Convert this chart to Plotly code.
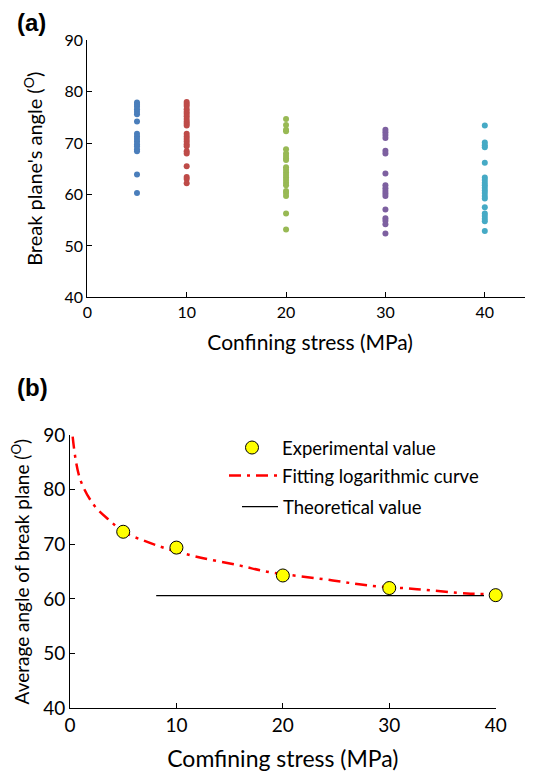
import plotly.graph_objects as go

# ---------------- Panel (a) data ----------------
stress_a = [5, 10, 20, 30, 40]
colors_a = ["#4A7EBB", "#BE4B48", "#98B954", "#7D60A0", "#46AAC5"]
angles_5 = [77.9, 77.5, 77.1, 76.6, 76.1, 75.6, 74.2, 71.8, 71.3, 70.8, 70.3,
            69.8, 69.4, 68.8, 68.4, 63.9, 60.3]
angles_10 = [78.0, 77.6, 77.2, 76.6, 76.1, 75.7, 75.2, 74.7, 74.2, 73.8, 73.4,
             71.8, 71.3, 70.8, 70.3, 69.8, 69.4, 68.4, 68.0, 65.5, 63.4, 63.0, 62.2]
angles_20 = [74.7, 73.5, 72.6, 72.3, 68.8, 68.0, 67.5, 67.0, 66.7, 65.3, 64.8,
             64.3, 63.8, 63.3, 62.8, 62.3, 61.8, 60.7, 60.3, 59.7, 56.3, 53.2]
angles_30 = [72.6, 72.1, 71.6, 71.0, 68.5, 68.0, 64.1, 61.8, 61.2, 60.7, 60.2,
             59.7, 57.1, 55.4, 54.9, 54.2, 52.4]
angles_40 = [73.4, 70.1, 69.6, 69.2, 66.2, 63.3, 62.8, 62.3, 61.8, 61.3, 60.8,
             60.3, 59.7, 59.2, 57.5, 56.3, 55.8, 55.3, 54.8, 52.9]
angle_groups = [angles_5, angles_10, angles_20, angles_30, angles_40]

# ---------------- Panel (b) data ----------------
stress_b = [5, 10, 20, 30, 40]
avg_angle = [72.3, 69.4, 64.3, 62.0, 60.7]
fit_x = [0.25, 0.94, 2.28, 3.76, 5.0, 6.9, 9.1, 12.2, 16.0, 18.5, 24.7, 27.9,
         32.6, 37.3, 39.0]
fit_y = [89.7, 82.0, 77.1, 74.3, 72.3, 70.7, 69.2, 67.6, 66.1, 65.0, 63.4, 62.5,
         61.8, 61.0, 60.9]
theory_x = [8.1, 38.9]
theory_y = [60.6, 60.6]

FONT = "Lato"
OFF = 8          # page body margin
W, H = 525, 764  # figure size so that content reaches the window edges


def sx(s):
    """screen x pixel -> paper fraction"""
    return (s - OFF) / W


def sy(s):
    """screen y pixel -> paper fraction"""
    return 1 - (s - OFF) / H


fig = go.Figure()

for s, ys, c in zip(stress_a, angle_groups, colors_a):
    fig.add_trace(go.Scatter(
        x=[s] * len(ys), y=ys, mode="markers",
        marker=dict(color=c, size=6, line=dict(width=0)),
        xaxis="x", yaxis="y", showlegend=False))

fig.add_trace(go.Scatter(
    x=fit_x, y=fit_y, mode="lines", name="Fitting logarithmic curve",
    line=dict(color="#FF0000", width=2.5, dash="12px,6px,3px,6px", shape="spline"),
    xaxis="x2", yaxis="y2", legend="legend2"))
fig.add_trace(go.Scatter(
    x=theory_x, y=theory_y, mode="lines", name="Theoretical value",
    line=dict(color="#000000", width=1.2),
    xaxis="x2", yaxis="y2", legend="legend3"))
fig.add_trace(go.Scatter(
    x=stress_b, y=avg_angle, mode="markers", name="Experimental value",
    marker=dict(color="#FFFF00", size=13, line=dict(color="#000000", width=1)),
    cliponaxis=False, xaxis="x2", yaxis="y2", legend="legend"))

axis_common = dict(showline=True, linecolor="black", linewidth=1, ticks="inside",
                   ticklen=5, tickcolor="black", showgrid=False, zeroline=False,
                   mirror=False, automargin=False)

fig.update_layout(
    width=W, height=H, margin=dict(l=0, r=0, t=0, b=0, autoexpand=False),
    paper_bgcolor="white", plot_bgcolor="white",
    font=dict(family=FONT, color="black"),
    xaxis=dict(domain=[sx(87.3), 1.0], range=[0, 44.85], tickvals=[0, 10, 20, 30, 40],
               anchor="y", tickfont=dict(size=16, family=FONT),
               title=dict(text="Confining stress (MPa)", font=dict(size=21, family=FONT), standoff=15),
               **axis_common),
    yaxis=dict(domain=[sy(297.3), sy(40.3)], range=[40, 90], tickvals=[40, 50, 60, 70, 80, 90],
               anchor="x", tickfont=dict(size=16, family=FONT),
               title=dict(text="Break plane's angle (<sup>O</sup>)", font=dict(size=20, family=FONT), standoff=16),
               **axis_common),
    xaxis2=dict(domain=[sx(70), sx(495.7)], range=[0, 40], tickvals=[0, 10, 20, 30, 40],
                anchor="y2", tickfont=dict(size=19, family=FONT),
                title=dict(text="Comfining stress (MPa)", font=dict(size=23, family=FONT), standoff=18),
                **axis_common),
    yaxis2=dict(domain=[sy(708.3), sy(435)], range=[40, 90], tickvals=[40, 50, 60, 70, 80, 90],
                anchor="x2", tickfont=dict(size=19, family=FONT),
                title=dict(text="Average angle of break plane (<sup>O</sup>)", font=dict(size=19, family=FONT), standoff=11),
                **axis_common),
    legend=dict(x=sx(222), y=sy(448), xanchor="left", yanchor="middle",
                bgcolor="rgba(0,0,0,0)", font=dict(size=18.5, family=FONT), itemwidth=50),
    legend2=dict(x=sx(224), y=sy(476), xanchor="left", yanchor="middle",
                 bgcolor="rgba(0,0,0,0)", font=dict(size=18.5, family=FONT), itemwidth=48),
    legend3=dict(x=sx(237), y=sy(507), xanchor="left", yanchor="middle",
                 bgcolor="rgba(0,0,0,0)", font=dict(size=18.5, family=FONT), itemwidth=36),
    annotations=[
        dict(text="<b>(a)</b>", x=sx(15), y=sy(23), xref="paper", yref="paper",
             xanchor="left", yanchor="middle", showarrow=False,
             font=dict(size=24, family="Liberation Sans")),
        dict(text="<b>(b)</b>", x=sx(15), y=sy(387), xref="paper", yref="paper",
             xanchor="left", yanchor="middle", showarrow=False,
             font=dict(size=24, family="Liberation Sans")),
    ],
)

fig.write_html("out.html")
